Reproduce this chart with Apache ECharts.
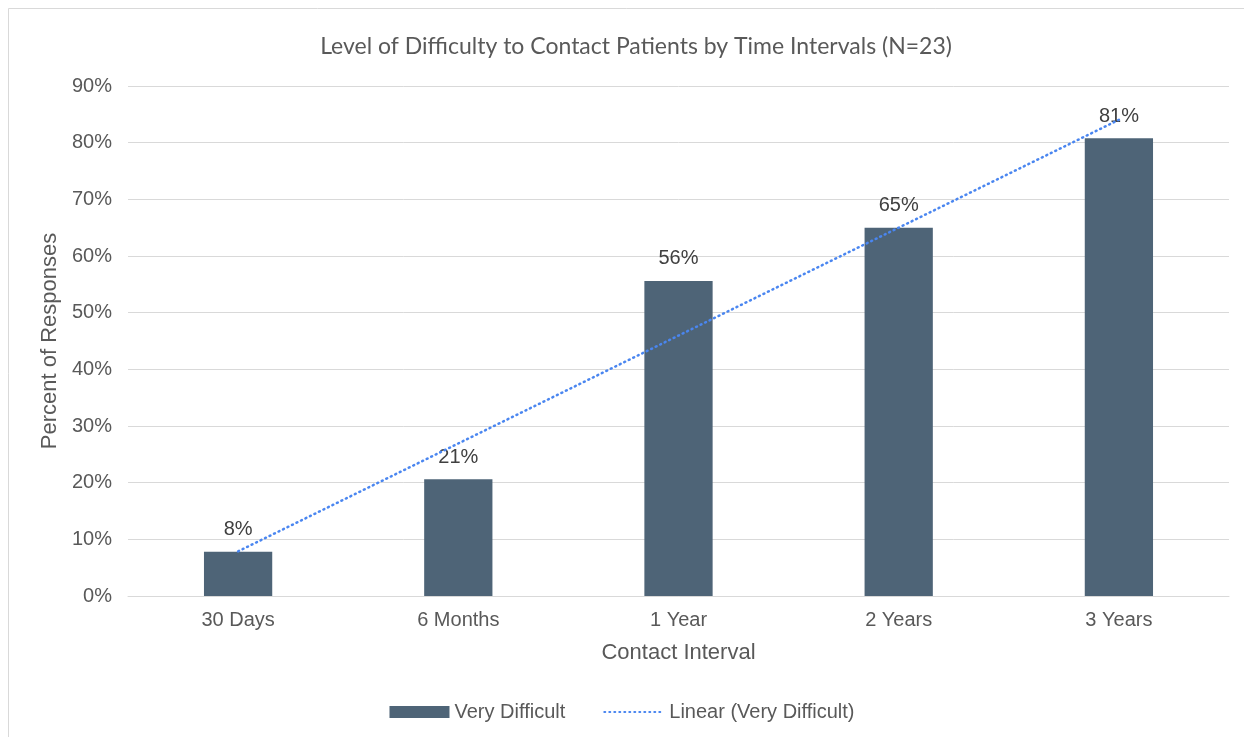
<!DOCTYPE html>
<html>
<head>
<meta charset="utf-8">
<script src="https://cdn.jsdelivr.net/npm/echarts@6/dist/echarts.min.js"></script>
<style>
html,body{margin:0;padding:0;background:#fff;}
#chart{width:1244px;height:737px;}
</style>
</head>
<body>
<div id="chart"></div>
<script>
const categories = ['30 Days', '6 Months', '1 Year', '2 Years', '3 Years'];
const veryDifficult = [7.8, 20.6, 55.6, 65.0, 80.8];
const barLabels = ['8%', '21%', '56%', '65%', '81%'];
const yTicks = [0, 10, 20, 30, 40, 50, 60, 70, 80, 90];

// Excel-style linear trendline (least squares over the bar values)
function linearTrend(vals) {
  const n = vals.length;
  let sx = 0, sy = 0, sxy = 0, sxx = 0;
  vals.forEach((v, i) => { const x = i + 1; sx += x; sy += v; sxy += x * v; sxx += x * x; });
  const slope = (n * sxy - sx * sy) / (n * sxx - sx * sx);
  const icpt = (sy - slope * sx) / n;
  return vals.map((v, i) => +(icpt + slope * (i + 1)).toFixed(3));
}
const trend = linearTrend(veryDifficult);

const chart = echarts.init(document.getElementById('chart'), null, {renderer: 'canvas'});
const axisFont = 'Liberation Sans, Arial, sans-serif';
chart.setOption({
  backgroundColor: '#fff',
  animation: false,
  graphic: [{
    type: 'rect', shape: {x: 8.5, y: 8.5, width: 1250, height: 740},
    style: {fill: 'none', stroke: '#d9d9d9', lineWidth: 1}, z: -1
  }],
  title: {
    text: 'Level of Difficulty to Contact Patients by Time Intervals (N=23)',
    left: 631, top: 30, textAlign: 'center',
    textStyle: {fontFamily: 'Lato, Open Sans, sans-serif', fontWeight: 'normal', fontSize: 23, color: '#595959'}
  },
  legend: {
    show: true, orient: 'horizontal', top: 697, left: 'center',
    itemGap: 38, itemWidth: 60, itemHeight: 12,
    textStyle: {fontFamily: axisFont, fontSize: 20, color: '#595959'},
    data: [
      {name: 'Very Difficult', icon: 'rect', itemStyle: {color: '#4e6477'}},
      {name: 'Linear (Very Difficult)', itemStyle: {opacity: 0}}
    ]
  },
  grid: {left: 128, right: 15, top: 86, bottom: 141},
  xAxis: {
    type: 'category', data: categories,
    name: 'Contact Interval', nameLocation: 'middle', nameGap: 46,
    nameTextStyle: {fontFamily: axisFont, fontSize: 22, color: '#595959'},
    axisLine: {show: true, lineStyle: {color: '#d9d9d9'}},
    axisTick: {show: false},
    axisLabel: {fontFamily: axisFont, fontSize: 20, color: '#595959', margin: 14}
  },
  yAxis: {
    type: 'value', min: 0, max: 90, interval: 10,
    name: 'Percent of Responses', nameLocation: 'middle', nameGap: 67,
    nameTextStyle: {fontFamily: axisFont, fontSize: 22, color: '#595959'},
    axisLine: {show: false}, axisTick: {show: false},
    axisLabel: {fontFamily: axisFont, fontSize: 20, color: '#595959', margin: 16,
      formatter: v => yTicks.includes(v) ? v + '%' : ''},
    splitLine: {lineStyle: {color: '#d9d9d9', width: 1}}
  },
  series: [
    {
      name: 'Very Difficult', type: 'bar', data: veryDifficult, barWidth: '31%',
      itemStyle: {color: '#4e6477'},
      label: {show: true, position: 'top', distance: 12,
        formatter: p => barLabels[p.dataIndex],
        fontFamily: axisFont, fontSize: 20, color: '#404040'}
    },
    {
      name: 'Linear (Very Difficult)', type: 'line', data: trend,
      symbol: 'none', z: 3,
      lineStyle: {color: '#4a86f0', width: 2.5, type: [1, 4], cap: 'round'},
      itemStyle: {color: '#4a86f0'}
    }
  ]
});
</script>
</body>
</html>
